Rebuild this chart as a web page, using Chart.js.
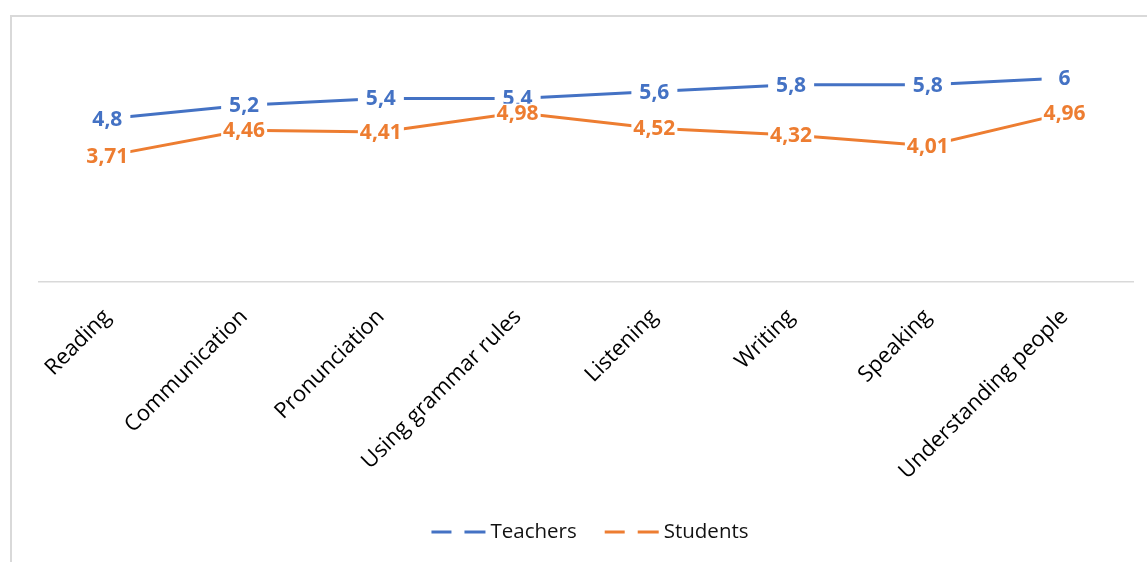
<!DOCTYPE html>
<html>
<head>
<meta charset="utf-8">
<script src="https://cdn.jsdelivr.net/npm/chart.js@4/dist/chart.umd.min.js"></script>
<style>
  html, body { margin: 0; padding: 0; background: #fff; }
  #wrap { width: 1147px; height: 562px; position: relative; }
</style>
</head>
<body>
<div id="wrap"><canvas id="c" width="1147" height="562"></canvas></div>
<script>
const categories = ['Reading', 'Communication', 'Pronunciation', 'Using grammar rules', 'Listening', 'Writing', 'Speaking', 'Understanding people'];
const teachers = [4.8, 5.2, 5.4, 5.4, 5.6, 5.8, 5.8, 6];
const students = [3.71, 4.46, 4.41, 4.98, 4.52, 4.32, 4.01, 4.96];
const seriesNames = ['Teachers', 'Students'];
const seriesColors = ['#4472C4', '#ED7D31'];

const fmt = v => String(v).replace('.', ',');

// Light grey frame around the chart
const framePlugin = {
  id: 'frame',
  beforeDraw(chart) {
    const ctx = chart.ctx;
    ctx.save();
    ctx.strokeStyle = '#d9d9d9';
    ctx.lineWidth = 2;
    ctx.strokeRect(11, 16, 1300, 700);
    ctx.restore();
  }
};

// Value labels centred on each point, on a white box that hides the line underneath
const valueLabels = {
  id: 'valueLabels',
  afterDatasetsDraw(chart) {
    const ctx = chart.ctx;
    ctx.save();
    ctx.font = 'bold 21px "Open Sans", sans-serif';
    ctx.textAlign = 'center';
    ctx.textBaseline = 'middle';
    chart.data.datasets.forEach((ds, di) => {
      const meta = chart.getDatasetMeta(di);
      meta.data.forEach((pt, i) => {
        const w = 46, h = 18;
        ctx.fillStyle = '#fff';
        ctx.fillRect(pt.x - w / 2, pt.y - h / 2, w, h);
        ctx.fillStyle = ds.borderColor;
        ctx.fillText(fmt(ds.data[i]), pt.x, pt.y + 1);
      });
    });
    ctx.restore();
  }
};

// Bottom legend with dashed-line keys
const dashLegend = {
  id: 'dashLegend',
  afterDraw(chart) {
    const ctx = chart.ctx;
    ctx.save();
    ctx.font = '20.5px "Open Sans", sans-serif';
    ctx.textBaseline = 'middle';
    const y = 532;
    const keyW = 54, keyGap = 5, itemGap = 28;
    const items = chart.data.datasets.map(ds => ({
      label: ds.label, color: ds.borderColor, tw: ctx.measureText(ds.label).width
    }));
    const total = items.reduce((s, it) => s + keyW + keyGap + it.tw, 0) + itemGap * (items.length - 1);
    let x = 590 - total / 2;
    items.forEach(it => {
      ctx.strokeStyle = it.color;
      ctx.lineWidth = 3;
      ctx.beginPath();
      ctx.moveTo(x, y); ctx.lineTo(x + 20, y);
      ctx.moveTo(x + 33, y); ctx.lineTo(x + keyW, y);
      ctx.stroke();
      ctx.fillStyle = '#111';
      ctx.textAlign = 'left';
      ctx.fillText(it.label, x + keyW + keyGap, y);
      x += keyW + keyGap + it.tw + itemGap;
    });
    ctx.restore();
  }
};

new Chart(document.getElementById('c'), {
  type: 'line',
  data: {
    labels: categories,
    datasets: [
      { label: seriesNames[0], data: teachers, borderColor: seriesColors[0], backgroundColor: seriesColors[0] },
      { label: seriesNames[1], data: students, borderColor: seriesColors[1], backgroundColor: seriesColors[1] }
    ]
  },
  options: {
    responsive: false,
    animation: false,
    devicePixelRatio: 1,
    layout: { autoPadding: false, padding: { left: 39, right: 14, top: 44, bottom: 0 } },
    elements: {
      line: { borderWidth: 3, tension: 0, borderCapStyle: 'butt' },
      point: { radius: 0, hoverRadius: 0 }
    },
    plugins: { legend: { display: false }, tooltip: { enabled: false } },
    scales: {
      x: {
        offset: true,
        grid: { display: false, drawTicks: false },
        border: { color: '#d9d9d9', width: 1.5 },
        ticks: {
          autoSkip: false, minRotation: 45, maxRotation: 45, padding: 22,
          color: '#000', font: { family: '"Open Sans", sans-serif', size: 22 }
        },
        afterFit(scale) { scale.height = 280; scale.paddingLeft = 0; scale.paddingRight = 0; }
      },
      y: { display: false, min: 0, max: 7 }
    }
  },
  plugins: [framePlugin, valueLabels, dashLegend]
});
</script>
</body>
</html>
